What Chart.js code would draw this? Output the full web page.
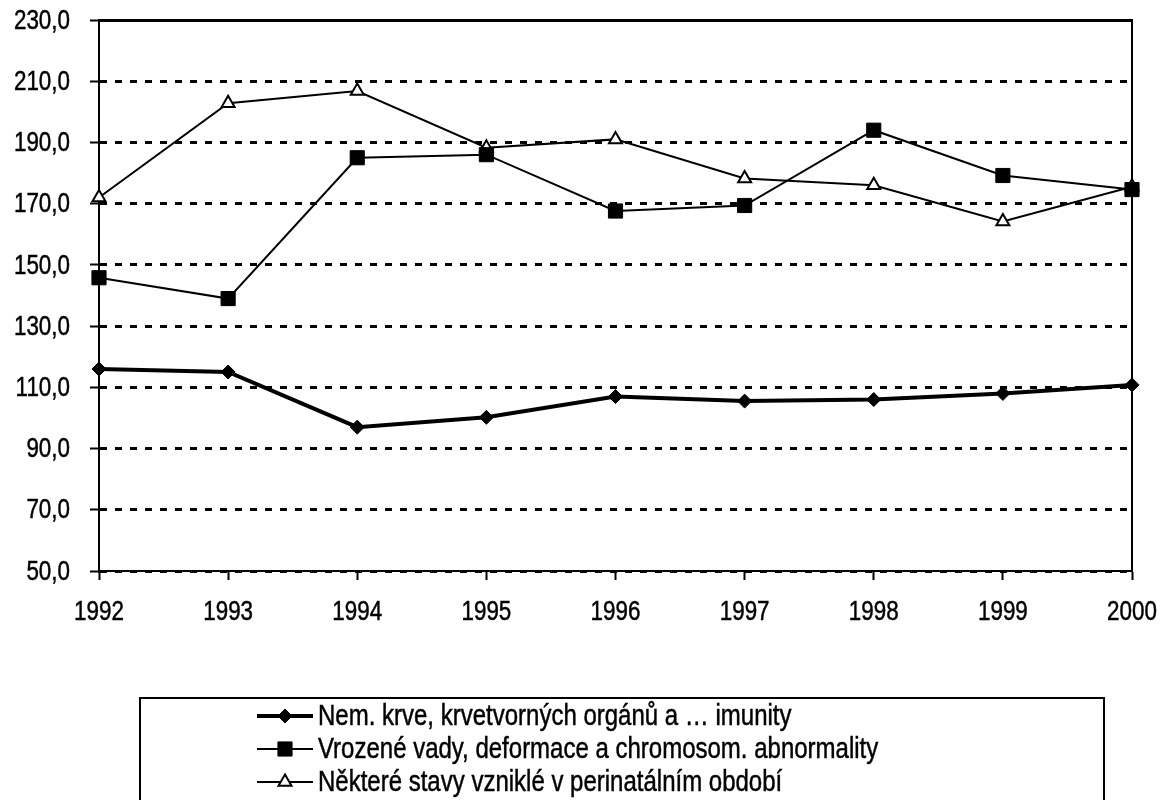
<!DOCTYPE html>
<html>
<head>
<meta charset="utf-8">
<script src="https://cdn.jsdelivr.net/npm/chart.js@4/dist/chart.umd.min.js"></script>
<style>
  html, body { margin: 0; padding: 0; background: #fff; }
  #wrap { width: 1160px; height: 800px; position: relative; overflow: hidden; }
</style>
</head>
<body>
<div id="wrap"><canvas id="chart"></canvas></div>
<script>
const years = ['1992', '1993', '1994', '1995', '1996', '1997', '1998', '1999', '2000'];
const bloodDiseases = [116.0, 115.0, 97.0, 100.2, 107.0, 105.5, 106.0, 108.0, 110.8];
const congenitalDefects = [145.8, 139.0, 185.0, 186.0, 167.6, 169.4, 194.0, 179.2, 174.6];
const perinatalStates = [172.0, 202.8, 206.8, 188.3, 191.0, 178.2, 176.0, 164.2, 175.5];
const seriesNames = [
  'Nem. krve, krvetvorných orgánů a … imunity',
  'Vrozené vady, deformace a chromosom. abnormality',
  'Některé stavy vzniklé v perinatálním období'
];
const yMin = 50, yMax = 230, yStep = 20;

const fontFamily = '"Liberation Sans", Arial, sans-serif';
Chart.defaults.font.family = fontFamily;
Chart.defaults.font.size = 22;
Chart.defaults.color = '#000';

// the original uses a narrow font, so text is drawn squeezed horizontally
function narrowText(ctx, text, x, y, size, align) {
  ctx.save();
  ctx.translate(x, y);
  ctx.scale(0.8, 1);
  ctx.font = size + 'px ' + fontFamily;
  ctx.fillStyle = '#000';
  ctx.strokeStyle = '#000';
  ctx.lineWidth = 0.5;
  ctx.textAlign = align;
  ctx.textBaseline = 'middle';
  ctx.fillText(text, 0, 0);
  ctx.strokeText(text, 0, 0);
  ctx.restore();
}

// plot frame (top + right edge) like the original
const frame = {
  id: 'frame',
  beforeDatasetsDraw(chart) {
    const { ctx, chartArea: a } = chart;
    ctx.save();
    ctx.strokeStyle = '#000';
    ctx.lineWidth = 2;
    ctx.beginPath();
    ctx.moveTo(a.left, a.top);
    ctx.lineTo(a.right, a.top);
    ctx.lineTo(a.right, a.bottom);
    ctx.stroke();
    ctx.restore();
  }
};

// tick labels of both axes, taken from the scales
const tickText = {
  id: 'tickText',
  afterDraw(chart) {
    const { ctx, scales } = chart;
    scales.x.ticks.forEach((t, i) => {
      narrowText(ctx, t.label, scales.x.getPixelForTick(i), scales.x.top + 41, 28, 'center');
    });
    scales.y.ticks.forEach((t, i) => {
      narrowText(ctx, t.label, scales.y.right - 29, scales.y.getPixelForTick(i) + 1, 28, 'right');
    });
  }
};

// boxed legend under the chart, one item per row (box runs off the bottom edge)
const boxLegend = {
  id: 'boxLegend',
  afterDraw(chart) {
    const { ctx } = chart;
    ctx.save();
    ctx.strokeStyle = '#000';
    ctx.lineWidth = 2;
    ctx.strokeRect(140, 698, 964, 120);
    chart.data.datasets.forEach((ds, i) => {
      const y = 716 + i * 33;
      ctx.strokeStyle = '#000';
      ctx.lineWidth = ds.borderWidth;
      ctx.beginPath();
      ctx.moveTo(257, y);
      ctx.lineTo(313, y);
      ctx.stroke();
      ctx.fillStyle = ds.pointBackgroundColor;
      ctx.lineWidth = ds.pointBorderWidth;
      Chart.helpers.drawPoint(ctx, { pointStyle: ds.pointStyle, radius: ds.pointRadius, rotation: 0, borderWidth: ds.pointBorderWidth }, 285, y);
      narrowText(ctx, ds.label, 318, y + 1, 30, 'left');
    });
    ctx.restore();
  }
};

new Chart(document.getElementById('chart'), {
  type: 'line',
  data: {
    labels: years,
    datasets: [
      {
        label: seriesNames[0],
        data: bloodDiseases,
        borderColor: '#000',
        borderWidth: 4,
        pointStyle: 'rectRot',
        pointRadius: 7,
        pointBorderWidth: 1,
        pointBackgroundColor: '#000',
        pointBorderColor: '#000',
        tension: 0
      },
      {
        label: seriesNames[1],
        data: congenitalDefects,
        borderColor: '#000',
        borderWidth: 2,
        pointStyle: 'rect',
        pointRadius: 10,
        pointBorderWidth: 1,
        pointBackgroundColor: '#000',
        pointBorderColor: '#000',
        tension: 0
      },
      {
        label: seriesNames[2],
        data: perinatalStates,
        borderColor: '#000',
        borderWidth: 2,
        pointStyle: 'triangle',
        pointRadius: 7.5,
        pointBorderWidth: 2,
        pointBackgroundColor: '#fff',
        pointBorderColor: '#000',
        tension: 0
      }
    ]
  },
  options: {
    responsive: true,
    maintainAspectRatio: false,
    animation: false,
    layout: { padding: { top: 20, right: 28, left: 0, bottom: 169 } },
    plugins: {
      legend: { display: false },
      tooltip: { enabled: false }
    },
    scales: {
      x: {
        grid: { display: true, drawOnChartArea: false, tickLength: 9, tickWidth: 2, tickColor: '#000' },
        border: { display: true, color: '#000', width: 2 },
        ticks: { color: 'rgba(0,0,0,0)', padding: 12, maxRotation: 0, autoSkip: false },
        afterFit(scale) {
          scale.height = 60;
          scale.paddingLeft = 0;
          scale.paddingRight = 0;
        }
      },
      y: {
        min: yMin,
        max: yMax,
        grid: {
          color: '#000',
          lineWidth: 3,
          tickLength: 9,
          tickWidth: 2,
          tickColor: '#000'
        },
        border: {
          display: true,
          color: '#000',
          width: 2,
          dash: (c) => (c.tick && c.tick.value !== yMax ? [7, 8] : [])
        },
        ticks: {
          color: 'rgba(0,0,0,0)',
          stepSize: yStep,
          padding: 6,
          callback: (v) => v.toFixed(1).replace('.', ',')
        },
        afterFit(scale) { scale.width = 99; }
      }
    }
  },
  plugins: [frame, tickText, boxLegend]
});
</script>
</body>
</html>
